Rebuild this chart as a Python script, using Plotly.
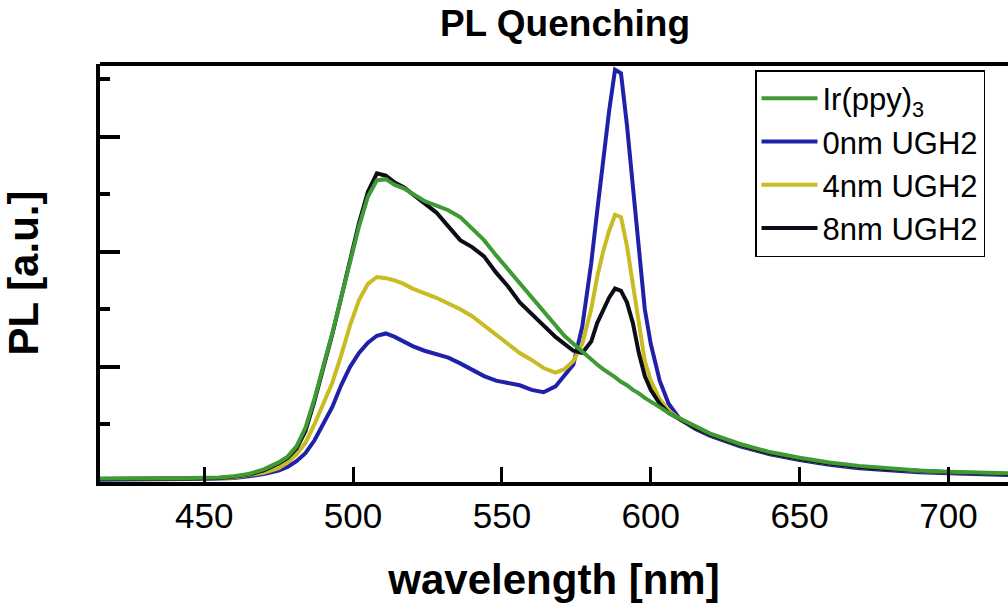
import plotly.graph_objects as go

wavelength = [415, 430, 445, 455, 460, 465, 470, 475, 478, 481, 484, 487, 490, 493, 496, 499,
              502, 505, 508, 511, 514, 517, 520, 524, 528, 532, 536, 540, 544, 548, 552, 556,
              560, 564, 568, 571, 574, 577, 580, 582, 584, 586, 588, 590, 592, 594, 596, 598,
              600, 603, 606, 610, 615, 620, 630, 640, 650, 660, 670, 680, 690, 700, 710, 720]

ir_ppy3 = [0.03, 0.03, 0.035, 0.04, 0.05, 0.07, 0.11, 0.17, 0.22, 0.31, 0.47, 0.72, 1.00, 1.29, 1.60, 1.92,
           2.22, 2.48, 2.62, 2.63, 2.58, 2.55, 2.50, 2.44, 2.40, 2.36, 2.30, 2.20, 2.10, 1.97, 1.85, 1.72,
           1.60, 1.48, 1.36, 1.27, 1.20, 1.13, 1.06, 1.02, 0.98, 0.95, 0.91, 0.87, 0.84, 0.80, 0.77, 0.73,
           0.70, 0.65, 0.60, 0.55, 0.48, 0.42, 0.33, 0.26, 0.21, 0.17, 0.14, 0.12, 0.10, 0.09, 0.08, 0.075]

ugh2_0nm = [0.02, 0.02, 0.025, 0.03, 0.035, 0.05, 0.07, 0.10, 0.13, 0.18, 0.25, 0.36, 0.50, 0.65, 0.84, 1.00,
            1.12, 1.21, 1.27, 1.29, 1.26, 1.22, 1.18, 1.14, 1.11, 1.08, 1.03, 0.97, 0.92, 0.88, 0.86, 0.84,
            0.80, 0.78, 0.83, 0.92, 1.02, 1.35, 1.90, 2.35, 2.80, 3.22, 3.58, 3.55, 3.10, 2.55, 2.00, 1.50,
            1.20, 0.88, 0.68, 0.54, 0.46, 0.40, 0.31, 0.24, 0.19, 0.15, 0.12, 0.10, 0.085, 0.075, 0.065, 0.06]

ugh2_4nm = [0.025, 0.025, 0.03, 0.035, 0.04, 0.06, 0.08, 0.12, 0.17, 0.24, 0.34, 0.50, 0.68, 0.86, 1.10, 1.36,
            1.58, 1.72, 1.78, 1.77, 1.75, 1.72, 1.68, 1.64, 1.60, 1.55, 1.50, 1.44, 1.36, 1.28, 1.20, 1.12,
            1.06, 0.99, 0.95, 0.98, 1.05, 1.20, 1.50, 1.78, 2.00, 2.18, 2.32, 2.30, 2.05, 1.70, 1.40, 1.05,
            0.88, 0.72, 0.62, 0.54, 0.47, 0.41, 0.32, 0.25, 0.20, 0.16, 0.13, 0.11, 0.095, 0.085, 0.075, 0.07]

ugh2_8nm = [0.025, 0.025, 0.03, 0.035, 0.045, 0.065, 0.10, 0.16, 0.21, 0.29, 0.44, 0.70, 0.98, 1.28, 1.60, 1.93,
            2.25, 2.52, 2.68, 2.66, 2.60, 2.56, 2.50, 2.42, 2.34, 2.22, 2.10, 2.04, 1.96, 1.82, 1.70, 1.56,
            1.46, 1.36, 1.26, 1.20, 1.14, 1.12, 1.22, 1.38, 1.50, 1.60, 1.68, 1.66, 1.56, 1.38, 1.12, 0.92,
            0.80, 0.68, 0.60, 0.54, 0.47, 0.41, 0.32, 0.25, 0.20, 0.16, 0.13, 0.11, 0.095, 0.085, 0.075, 0.07]

series_names = ["Ir(ppy)<sub>3</sub>", "0nm UGH2", "4nm UGH2", "8nm UGH2"]
series_values = [ir_ppy3, ugh2_0nm, ugh2_4nm, ugh2_8nm]
series_colors = ["#3f9a35", "#1f22a8", "#c9bb22", "#0d0d18"]

x_ticks = [450, 500, 550, 600, 650, 700]

fig = go.Figure()
# draw order: green on top as in the reference
draw_order = [1, 2, 3, 0]
for i in draw_order:
    fig.add_trace(go.Scatter(
        x=wavelength, y=series_values[i], mode="lines", name=series_names[i],
        line=dict(color=series_colors[i], width=4), legendrank=i + 1,
    ))

FONT = "Liberation Sans, Arial, sans-serif"

fig.update_layout(
    width=1008, height=606,
    margin=dict(l=100, r=0, t=64, b=124),
    paper_bgcolor="white", plot_bgcolor="white",
    font=dict(family=FONT, color="black"),
    title=dict(text="<b>PL Quenching</b>", x=565 / 1008, xref="container", xanchor="center",
               y=1 - 23 / 606, yanchor="middle", font=dict(size=37, family=FONT, color="black")),
    showlegend=True,
    legend=dict(x=(755 - 100) / 908, y=(482 - 70) / 418, xanchor="left", yanchor="top",
                bgcolor="white", bordercolor="black", borderwidth=1.5,
                font=dict(size=31, family=FONT, color="black"),
                tracegroupgap=0, itemwidth=56),
)

fig.update_xaxes(
    range=[415, 720], tickvals=x_ticks, ticktext=[str(v) for v in x_ticks],
    ticks="inside", ticklen=15, tickwidth=3, tickcolor="black",
    showline=True, linewidth=4, linecolor="black", mirror=False,
    showgrid=False, zeroline=False, automargin=False,
    tickfont=dict(size=35, family=FONT, color="black"),
    title=dict(text="<b>wavelength [nm]</b>", font=dict(size=42, family=FONT, color="black"), standoff=32),
)
fig.update_yaxes(
    range=[0, 3.63], tickvals=[1, 2, 3], showticklabels=False,
    ticks="inside", ticklen=20, tickwidth=4, tickcolor="black",
    minor=dict(tickvals=[0.5, 1.5, 2.5, 3.5], ticks="inside", ticklen=10, tickwidth=4, tickcolor="black"),
    showline=True, linewidth=4, linecolor="black",
    showgrid=False, zeroline=False, automargin=False,
    title=dict(text="<b>PL [a.u.]</b>", font=dict(size=42, family=FONT, color="black"), standoff=47),
)
# top border of the frame
fig.add_shape(type="line", xref="paper", yref="paper", x0=0, x1=1, y0=1, y1=1,
              line=dict(color="black", width=4))

fig.write_html("out.html", config={"displayModeBar": False},
               post_script="document.body.style.margin='0';document.body.style.padding='0';")
